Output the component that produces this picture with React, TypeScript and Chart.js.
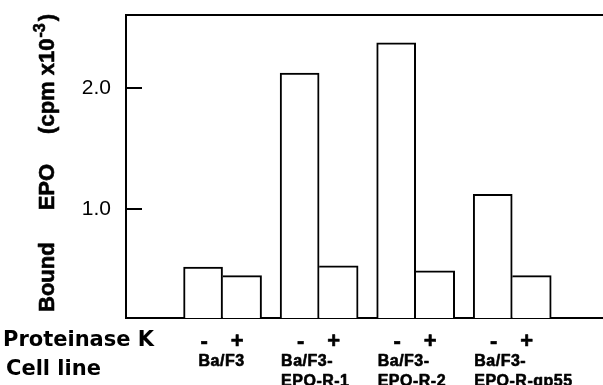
import React, { useEffect, useRef } from "react";
import { Chart, registerables } from "chart.js";

Chart.register(...registerables);

// ---- data ----
const groupPositions = [1, 2, 3, 4];
const cellLineLabels: string[][] = [
  ["Ba/F3"],
  ["Ba/F3-", "EPO-R-1"],
  ["Ba/F3-", "EPO-R-2"],
  ["Ba/F3-", "EPO-R-gp55"],
];
const minusValues = [0.52, 2.12, 2.37, 1.12];
const plusValues = [0.45, 0.53, 0.49, 0.45];
const signLabels = ["-", "+"];
const yTickValues = [1.0, 2.0];
const yTitleWords = ["Bound", "EPO", "(cpm x10"];
const yTitleSuper = "-3";
const rowLabels = ["Proteinase K", "Cell line"];

const BOLD = "'Liberation Sans', Arial, sans-serif";
const HEAVY = "'DejaVu Sans', sans-serif";

function heavyText(ctx: CanvasRenderingContext2D, t: string, x: number, y: number) {
  ctx.fillText(t, x, y);
  ctx.strokeText(t, x, y);
}

const annotate = {
  id: "annotate",
  afterDraw(chart: any) {
    const ctx = chart.ctx as CanvasRenderingContext2D;
    const area = chart.chartArea;
    ctx.save();
    // top frame line
    ctx.strokeStyle = "#000";
    ctx.lineWidth = 2;
    ctx.beginPath();
    ctx.moveTo(area.left - 1, area.top);
    ctx.lineTo(area.right, area.top);
    ctx.stroke();

    ctx.fillStyle = "#000";
    ctx.lineWidth = 0.6;
    ctx.lineJoin = "round";
    // y title (rotated)
    ctx.save();
    ctx.translate(54, area.bottom - 6);
    ctx.rotate(-Math.PI / 2);
    ctx.textAlign = "left";
    ctx.textBaseline = "alphabetic";
    const gaps = [32, 30, 0];
    let x = 0;
    yTitleWords.forEach((w, i) => {
      ctx.font = `bold 22px ${BOLD}`;
      heavyText(ctx, w, x, 0);
      x += ctx.measureText(w).width + gaps[i];
    });
    ctx.font = `bold 16px ${BOLD}`;
    heavyText(ctx, yTitleSuper, x + 1, -9);
    x += ctx.measureText(yTitleSuper).width + 3;
    ctx.font = `bold 22px ${BOLD}`;
    heavyText(ctx, ")", x, 0);
    ctx.restore();

    // row labels
    ctx.textAlign = "left";
    ctx.textBaseline = "alphabetic";
    ctx.font = `bold 21px ${HEAVY}`;
    ctx.fillText(rowLabels[0], 3, 346);
    ctx.fillText(rowLabels[1], 6, 375);

    const m0 = chart.getDatasetMeta(0);
    const m1 = chart.getDatasetMeta(1);
    groupPositions.forEach((g, i) => {
      const b0 = m0.data[i];
      const b1 = m1.data[i];
      // signs
      ctx.font = `bold 22px ${BOLD}`;
      ctx.textAlign = "center";
      heavyText(ctx, signLabels[0], b0.x + 1, 348);
      heavyText(ctx, signLabels[1], b1.x - 5, 348);
      // cell line names
      ctx.font = `bold 16px ${BOLD}`;
      (ctx as any).letterSpacing = "0.5px";
      const lines = cellLineLabels[i];
      if (lines.length === 1) {
        ctx.textAlign = "center";
        heavyText(ctx, lines[0], chart.scales.x.getPixelForValue(g) - 1, 366);
      } else {
        ctx.textAlign = "left";
        const left = b0.x - b0.width / 2 + 1;
        lines.forEach((l, j) => heavyText(ctx, l, left, 366 + j * 20));
      }
      (ctx as any).letterSpacing = "0px";
    });
    ctx.restore();
  },
};

export default function App() {
  const ref = useRef<HTMLCanvasElement>(null);
  useEffect(() => {
    document.body.style.margin = "0";
    const chart = new Chart(ref.current!, {
      type: "bar",
      data: {
        datasets: [
          {
            label: "-",
            data: groupPositions.map((g, i) => ({ x: g, y: minusValues[i] })),
            backgroundColor: "#fff",
            borderColor: "#000",
            borderWidth: { top: 2, left: 2, right: 2, bottom: 0 },
            borderSkipped: false,
            barThickness: 39,
          },
          {
            label: "+",
            data: groupPositions.map((g, i) => ({ x: g, y: plusValues[i] })),
            backgroundColor: "#fff",
            borderColor: "#000",
            borderWidth: { top: 2, left: 0, right: 2, bottom: 0 },
            borderSkipped: false,
            barThickness: 39,
          },
        ],
      },
      options: {
        responsive: false,
        animation: false,
        layout: { padding: { top: 15, right: 0, left: 0, bottom: 0 } },
        plugins: { legend: { display: false }, tooltip: { enabled: false } },
        scales: {
          x: {
            type: "linear",
            offset: false,
            min: 0,
            max: 4.94,
            grid: { display: false },
            ticks: { display: false },
            border: { display: true, color: "#000", width: 2 },
            afterFit: (s: any) => {
              s.height = 67;
              s.paddingLeft = 0;
              s.paddingRight = 0;
            },
          },
          y: {
            min: 0.1,
            max: 2.6,
            afterBuildTicks: (s: any) => {
              s.ticks = yTickValues.map((v) => ({ value: v }));
            },
            afterFit: (s: any) => {
              s.width = 126;
              s.paddingTop = 0;
              s.paddingBottom = 0;
            },
            grid: {
              drawOnChartArea: false,
              drawTicks: true,
              tickLength: -16,
              color: "#000",
              lineWidth: 2,
            },
            border: { display: true, color: "#000", width: 2 },
            ticks: {
              padding: 31,
              color: "#000",
              font: { family: "'Liberation Sans', Arial, sans-serif", size: 21 },
              callback: (v: any) => Number(v).toFixed(1),
            },
          },
        },
      },
      plugins: [annotate],
    });
    return () => chart.destroy();
  }, []);
  return (
    <div style={{ position: "absolute", left: 0, top: 0, width: 603, height: 385 }}>
      <canvas ref={ref} width={603} height={385} style={{ display: "block" }} />
    </div>
  );
}
